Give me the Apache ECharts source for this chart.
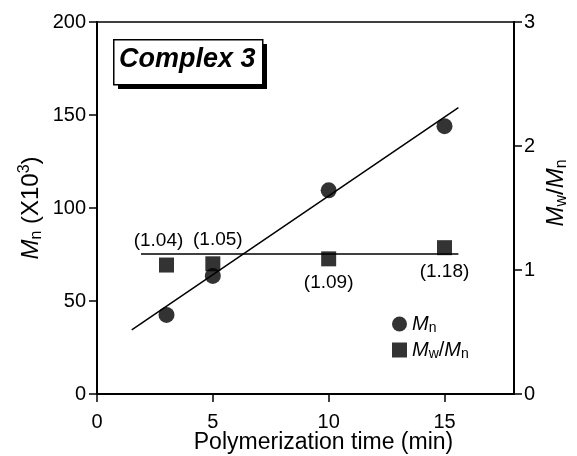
<!DOCTYPE html>
<html>
<head>
<meta charset="utf-8">
<script src="https://cdn.jsdelivr.net/npm/echarts@6/dist/echarts.min.js"></script>
<style>
  html, body { margin: 0; padding: 0; background: #fff; }
  #chart { width: 577px; height: 456px; }
</style>
</head>
<body>
<div id="chart"></div>
<script>
// data
const timeMin = [3, 5, 10, 15];
const mnValues = [42.5, 63.5, 109.5, 144];          // Mn (x10^3)
const pdiValues = [1.04, 1.05, 1.09, 1.18];          // Mw/Mn
const pdiLabels = ['(1.04)', '(1.05)', '(1.09)', '(1.18)'];
const pdiLabelSide = ['top', 'top', 'bottom', 'bottom'];
const mnFitX = [1.5, 15.6];
const mnFitY = [34.5, 154];
const pdiLineX = [1.9, 15.6];
const pdiLineY = [1.13, 1.13];
const xRange = [0, 18, 5];      // min, max, step
const mnRange = [0, 200, 50];
const pdiRange = [0, 3, 1];

const FONT = '"Liberation Sans", Arial, Helvetica, sans-serif';
const black = '#000';
// the two upper labels are pushed apart a little in the original
const labelShift = [[-8, 0], [5, 0], [0, 0], [0, 0]];

const chart = echarts.init(document.getElementById('chart'), null, { renderer: 'canvas' });

const richText = {
  i: { fontStyle: 'italic', fontSize: 24, fontFamily: FONT, color: black, lineHeight: 28 },
  t: { fontSize: 24, fontFamily: FONT, color: black, lineHeight: 28 },
  s: { fontSize: 16, fontFamily: FONT, color: black, lineHeight: 16, verticalAlign: 'bottom' },
  p: { fontSize: 16, fontFamily: FONT, color: black, lineHeight: 16, verticalAlign: 'top' }
};

chart.setOption({
  animation: false,
  backgroundColor: '#fff',
  grid: {
    left: 97, right: 63, top: 22, bottom: 62, outerBoundsMode: 'none', containLabel: false,
    show: true, borderColor: black, borderWidth: 1.5
  },
  xAxis: {
    type: 'value', min: xRange[0], max: xRange[1], interval: xRange[2],
    name: 'Polymerization time (min)', nameLocation: 'middle', nameGap: 37, nameMoveOverlap: false,
    nameTextStyle: { fontSize: 23, fontFamily: FONT, color: black, padding: [0, 0, 0, 36] },
    axisLine: { lineStyle: { color: black, width: 2 } },
    axisTick: { length: 8, lineStyle: { color: black, width: 1.5 } },
    axisLabel: { fontSize: 20, fontFamily: FONT, color: black, margin: 18, showMaxLabel: false },
    splitLine: { show: false }
  },
  yAxis: [{
    type: 'value', min: mnRange[0], max: mnRange[1], interval: mnRange[2],
    name: '{i|M}{s|n}{t| (X10}{p|3}{t|)}', nameLocation: 'middle', nameGap: 52, nameRotate: 90,
    nameMoveOverlap: false,
    nameTextStyle: { rich: richText },
    axisLine: { show: true, lineStyle: { color: black, width: 2 } },
    axisTick: { show: true, length: 8, lineStyle: { color: black, width: 1.5 } },
    axisLabel: { fontSize: 20, fontFamily: FONT, color: black, margin: 11 },
    splitLine: { show: false }
  }, {
    type: 'value', position: 'right', min: pdiRange[0], max: pdiRange[1], interval: pdiRange[2],
    name: '{i|M}{s|w}{t|/}{i|M}{s|n}', nameLocation: 'middle', nameGap: 28, nameRotate: 90,
    nameMoveOverlap: false,
    nameTextStyle: { rich: richText, padding: [0, 0, 0, 30] },
    axisLine: { show: true, lineStyle: { color: black, width: 2 } },
    axisTick: { show: true, length: 8, lineStyle: { color: black, width: 1.5 } },
    axisLabel: { fontSize: 20, fontFamily: FONT, color: black, margin: 10 },
    splitLine: { show: false }
  }],
  legend: {
    orient: 'vertical', left: 387, top: 309, itemWidth: 15, itemHeight: 15, itemGap: 5,
    data: [{ name: 'Mn', icon: 'circle' }, { name: 'Mw/Mn', icon: 'rect' }],
    formatter: name => name === 'Mn' ? '{i|M}{s|n}' : '{i|M}{s|w}{t|/}{i|M}{s|n}',
    textStyle: { rich: {
      i: { fontStyle: 'italic', fontSize: 20, fontFamily: FONT, color: black, lineHeight: 22 },
      t: { fontSize: 20, fontFamily: FONT, color: black, lineHeight: 22 },
      s: { fontSize: 14, fontFamily: FONT, color: black, lineHeight: 14, verticalAlign: 'bottom' }
    } }
  },
  graphic: [
    { type: 'rect', left: 118, top: 44, shape: { width: 149, height: 45 }, style: { fill: black }, z: 10 },
    { type: 'rect', left: 113, top: 39, shape: { width: 149, height: 45 }, style: { fill: '#fff', stroke: black, lineWidth: 1.5 }, z: 11 },
    { type: 'text', left: 119, top: 46, style: { text: 'Complex 3', font: 'italic bold 27px ' + FONT, fill: black }, z: 12 }
  ],
  series: [
    {
      name: 'Mn fit', type: 'line', yAxisIndex: 0, symbol: 'none', silent: true,
      data: mnFitX.map((x, i) => [x, mnFitY[i]]),
      lineStyle: { color: black, width: 1.5 }
    },
    {
      name: 'PDI line', type: 'line', yAxisIndex: 1, symbol: 'none', silent: true,
      data: pdiLineX.map((x, i) => [x, pdiLineY[i]]),
      lineStyle: { color: black, width: 1.5 }
    },
    {
      name: 'Mn', type: 'scatter', yAxisIndex: 0, symbol: 'circle', symbolSize: 16,
      itemStyle: { color: black },
      data: timeMin.map((x, i) => [x, mnValues[i]])
    },
    {
      name: 'Mw/Mn', type: 'scatter', yAxisIndex: 1, symbol: 'rect', symbolSize: 15,
      itemStyle: { color: black },
      data: timeMin.map((x, i) => ({
        value: [x, pdiValues[i]],
        label: {
          show: true, position: pdiLabelSide[i], distance: 7, offset: labelShift[i],
          formatter: pdiLabels[i], fontSize: 19, fontFamily: FONT, color: black, opacity: 1
        }
      }))
    }
  ]
});
</script>
</body>
</html>
